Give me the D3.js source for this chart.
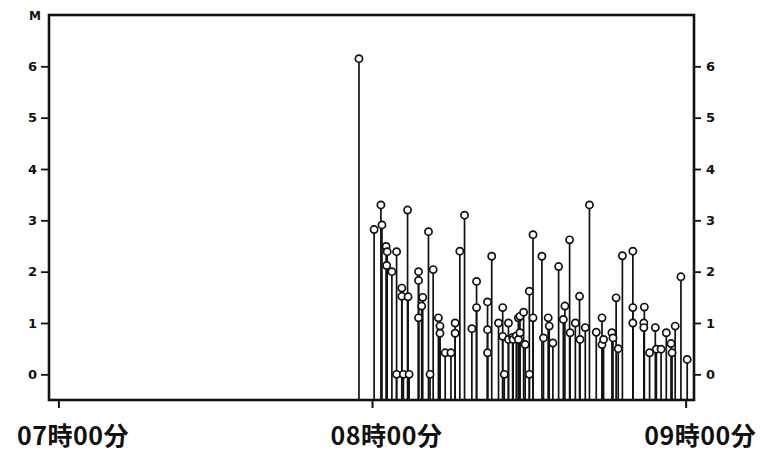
<!DOCTYPE html>
<html>
<head>
<meta charset="utf-8">
<script src="https://cdn.jsdelivr.net/npm/d3@7"></script>
<style>
  body { margin: 0; background: #fff; }
  svg { display: block; }
</style>
</head>
<body>
<svg id="chart" width="770" height="451"></svg>
<script>
// minutes after 07:00 and magnitude of each event
let eventMinutes = [
    57.5, 60.4, 61.7, 61.9, 62.7, 62.9, 62.8, 63.8, 64.7, 64.7,
    65.7, 65.7, 66.0, 66.8, 66.9, 67.1, 68.9, 68.9, 68.9, 69.5,
    69.7, 70.8, 71.1, 71.7, 72.7, 73.0, 73.0, 74.0, 75.1, 75.9,
    75.9, 76.8, 77.7, 79.1, 80.0, 80.0, 82.1, 82.1, 82.1, 82.9,
    84.2, 85.0, 85.0, 85.3, 86.1, 86.1, 86.9, 87.0, 87.6, 88.0,
    88.0, 88.3, 88.3, 89.0, 89.3, 90.1, 90.1, 90.8, 90.8, 92.5,
    92.8, 93.7, 93.9, 94.6, 95.7, 96.6, 96.9, 97.8, 97.9, 98.9,
    99.7, 99.8, 100.8, 101.6, 102.9, 104.0, 104.0, 104.3, 105.9, 106.1,
    106.7, 107.1, 107.9, 109.9, 109.9, 109.9, 112.0, 112.0, 112.1, 113.1,
    114.2, 114.4, 115.3, 116.3, 117.2, 117.4, 118.0, 119.1, 120.3
];
let magnitudes = [
    6.15, 2.82, 3.3, 2.91, 2.49, 2.39, 2.12, 2.0, 2.39, 0,
    1.68, 1.52, 0, 3.2, 1.51, 0, 2.0, 1.83, 1.1, 1.33,
    1.5, 2.78, 0, 2.04, 1.1, 0.94, 0.8, 0.42, 0.42, 1.0,
    0.8, 2.4, 3.1, 0.89, 1.81, 1.3, 1.41, 0.87, 0.42, 2.3,
    1.0, 1.3, 0.74, 0, 1.0, 0.68, 0.72, 0.68, 0.75, 0.68,
    1.1, 1.13, 0.81, 1.21, 0.58, 1.62, 0, 2.72, 1.1, 2.3,
    0.71, 1.1, 0.94, 0.61, 2.1, 1.07, 1.33, 2.62, 0.81, 1.0,
    1.52, 0.68, 0.91, 3.3, 0.82, 1.1, 0.58, 0.68, 0.81, 0.71,
    1.49, 0.5, 2.31, 2.4, 1.3, 1.0, 1.0, 0.91, 1.31, 0.42,
    0.91, 0.49, 0.49, 0.81, 0.6, 0.42, 0.94, 1.9, 0.29
];
let yTicks = [0, 1, 2, 3, 4, 5, 6];
let xTickMinutes = [0, 60, 120];
let xTickLabels = ["07時00分", "08時00分", "09時00分"];

let svg = d3.select("#chart");
let margin = { top: 15, right: 76, bottom: 51, left: 49 };
let width = 770 - margin.left - margin.right;
let height = 451 - margin.top - margin.bottom;

let g = svg.append("g")
    .attr("transform", "translate(" + margin.left + "," + margin.top + ")");

let x = d3.scaleLinear().domain([-1.8, 121.6]).range([0, width]);
let y = d3.scaleLinear().domain([-0.5, 7]).range([height, 0]);

let events = eventMinutes.map(function(m, i) {
    return { t: m, mag: magnitudes[i] };
});

// left axis
let left = g.append("g")
    .call(d3.axisLeft(y).tickValues(yTicks).tickSize(8).tickPadding(4).tickFormat(d3.format("d")));
left.select(".domain").remove();
left.selectAll("line").attr("stroke", "#111").attr("stroke-width", 1.8);
left.selectAll("text")
    .attr("fill", "#111")
    .style("font-family", "DejaVu Sans")
    .style("font-weight", "bold")
    .style("font-size", "13px");

g.append("text")
    .attr("x", -14)
    .attr("y", 5)
    .attr("text-anchor", "middle")
    .attr("fill", "#111")
    .style("font-family", "DejaVu Sans")
    .style("font-weight", "bold")
    .style("font-size", "12px")
    .text("M");

// right axis
let right = g.append("g")
    .attr("transform", "translate(" + width + ",0)")
    .call(d3.axisRight(y).tickValues(yTicks).tickSize(7).tickPadding(5).tickFormat(d3.format("d")));
right.select(".domain").remove();
right.selectAll("line").attr("stroke", "#111").attr("stroke-width", 1.8);
right.selectAll("text")
    .attr("fill", "#111")
    .style("font-family", "DejaVu Sans")
    .style("font-weight", "bold")
    .style("font-size", "13px");

// bottom axis
let bottom = g.append("g")
    .attr("transform", "translate(0," + height + ")")
    .call(d3.axisBottom(x).tickValues(xTickMinutes).tickSize(8).tickPadding(19)
        .tickFormat(function(d, i) { return xTickLabels[i]; }));
bottom.select(".domain").remove();
bottom.selectAll("line").attr("stroke", "#111").attr("stroke-width", 2);
bottom.selectAll("text")
    .attr("fill", "#111")
    .attr("dx", 14)
    .style("font-family", "Noto Sans CJK JP")
    .style("font-weight", "bold")
    .style("font-size", "25px")
    .style("letter-spacing", "0.5px");

// stems
g.selectAll(".stem")
    .data(events)
    .enter().append("line")
    .attr("class", "stem")
    .attr("x1", function(d) { return x(d.t); })
    .attr("x2", function(d) { return x(d.t); })
    .attr("y1", height)
    .attr("y2", function(d) { return y(d.mag); })
    .attr("stroke", "#111")
    .attr("stroke-width", 1.7);

// markers
g.selectAll(".dot")
    .data(events)
    .enter().append("circle")
    .attr("class", "dot")
    .attr("cx", function(d) { return x(d.t); })
    .attr("cy", function(d) { return y(d.mag); })
    .attr("r", 3.6)
    .attr("fill", "#fff")
    .attr("stroke", "#111")
    .attr("stroke-width", 1.7);

// frame
g.append("rect")
    .attr("x", 0)
    .attr("y", 0)
    .attr("width", width)
    .attr("height", height)
    .attr("fill", "none")
    .attr("stroke", "#111")
    .attr("stroke-width", 2.6);
</script>
</body>
</html>
